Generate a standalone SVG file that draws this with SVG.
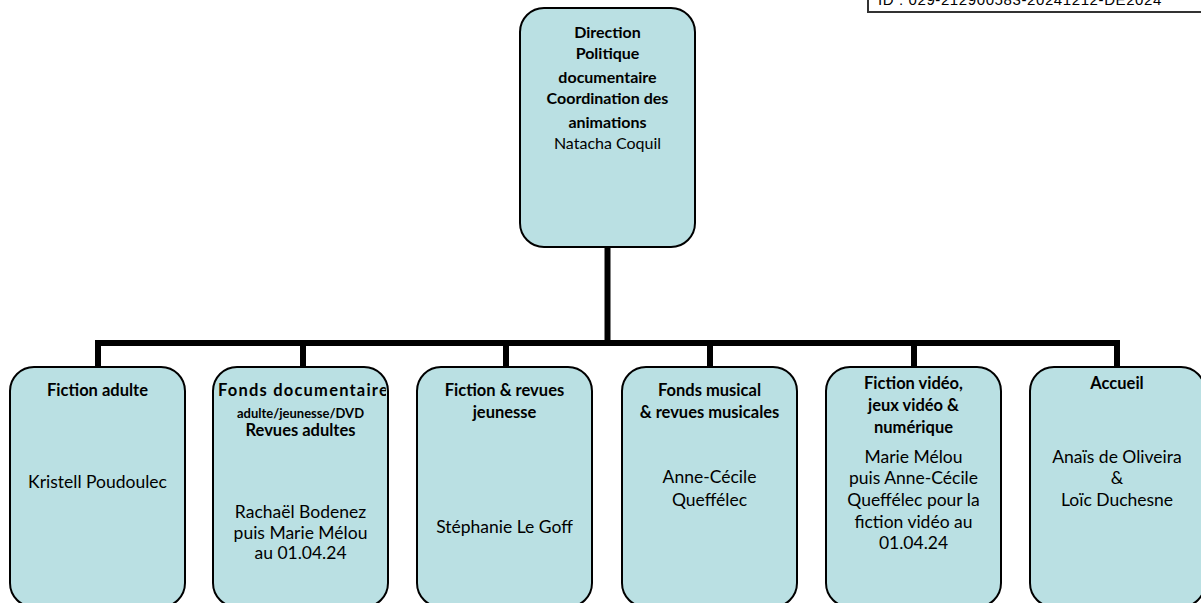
<svg xmlns="http://www.w3.org/2000/svg" width="1201" height="603" viewBox="0 0 1201 603">
<style>
.box{fill:#bae0e3;stroke:#000;stroke-width:2}
.t{font-family:Lato,"Noto Sans",sans-serif;font-size:16px;text-anchor:middle;fill:#000}
.r{font-size:17.5px}
.b{font-weight:bold}
.bb{font-weight:bold;font-size:16.5px}
.s{font-size:13px;font-weight:bold}
.c{stroke:#000;stroke-width:6;fill:none}
</style>
<defs>
<clipPath id="clip2"><rect x="214" y="368" width="172" height="240" rx="23"/></clipPath>
</defs>
<rect width="1201" height="603" fill="#fff"/>
<g id="stamp">
<rect x="868" y="-12" width="340" height="24" fill="#fff" stroke="#333" stroke-width="2"/>
<text x="878" y="5" style="font-family:'Liberation Sans',sans-serif;font-size:15px;letter-spacing:0.6px;fill:#000">ID : 029-212900583-20241212-DE2024</text>
</g>
<g id="connectors">
<line class="c" x1="607.5" y1="247" x2="607.5" y2="343"/>
<line class="c" x1="95" y1="343" x2="1120" y2="343"/>
<line class="c" x1="98" y1="340" x2="98" y2="367"/>
<line class="c" x1="303" y1="340" x2="303" y2="367"/>
<line class="c" x1="506" y1="340" x2="506" y2="367"/>
<line class="c" x1="710" y1="340" x2="710" y2="367"/>
<line class="c" x1="914" y1="340" x2="914" y2="367"/>
<line class="c" x1="1117" y1="340" x2="1117" y2="367"/>
</g>
<g id="direction">
<rect class="box" x="520" y="8" width="175" height="239" rx="24"/>
<text class="t b" x="607.5" y="38">Direction</text>
<text class="t b" x="607.5" y="59">Politique</text>
<text class="t b" x="607.5" y="83">documentaire</text>
<text class="t b" x="607.5" y="104">Coordination des</text>
<text class="t b" x="607.5" y="128">animations</text>
<text class="t" x="607.5" y="149">Natacha Coquil</text>
</g>
<g id="fiction-adulte">
<rect class="box" x="10" y="367" width="175" height="240" rx="24"/>
<text class="t bb" x="97.5" y="396">Fiction adulte</text>
<text class="t r" x="97.5" y="488">Kristell Poudoulec</text>
</g>
<g id="fonds-doc">
<rect class="box" x="213" y="367" width="175" height="240" rx="24"/>
<g clip-path="url(#clip2)">
<text class="t bb" x="218" y="396" style="text-anchor:start;letter-spacing:1.2px">Fonds documentaire</text>
</g>
<text class="t s" x="300.5" y="418">adulte/jeunesse/DVD</text>
<text class="t bb" x="300.5" y="436">Revues adultes</text>
<text class="t r" x="300.5" y="518">Rachaël Bodenez</text>
<text class="t r" x="300.5" y="539">puis Marie Mélou</text>
<text class="t r" x="300.5" y="559">au 01.04.24</text>
</g>
<g id="fiction-jeunesse">
<rect class="box" x="417" y="367" width="175" height="240" rx="24"/>
<text class="t bb" x="504.5" y="396">Fiction &amp; revues</text>
<text class="t bb" x="504.5" y="418">jeunesse</text>
<text class="t r" x="504.5" y="533">Stéphanie Le Goff</text>
</g>
<g id="fonds-musical">
<rect class="box" x="622" y="367" width="175" height="240" rx="24"/>
<text class="t bb" x="709.5" y="396">Fonds musical</text>
<text class="t bb" x="709.5" y="418">&amp; revues musicales</text>
<text class="t r" x="709.5" y="483">Anne-Cécile</text>
<text class="t r" x="709.5" y="506">Queffélec</text>
</g>
<g id="fiction-video">
<rect class="box" x="826" y="367" width="175" height="240" rx="24"/>
<text class="t bb" x="913.5" y="389">Fiction vidéo,</text>
<text class="t bb" x="913.5" y="411">jeux vidéo &amp;</text>
<text class="t bb" x="913.5" y="433">numérique</text>
<text class="t r" x="913.5" y="463">Marie Mélou</text>
<text class="t r" x="913.5" y="484">puis Anne-Cécile</text>
<text class="t r" x="913.5" y="506">Queffélec pour la</text>
<text class="t r" x="913.5" y="528">fiction vidéo au</text>
<text class="t r" x="913.5" y="549">01.04.24</text>
</g>
<g id="accueil">
<rect class="box" x="1030" y="367" width="175" height="240" rx="24"/>
<text class="t bb" x="1117" y="389">Accueil</text>
<text class="t r" x="1117" y="463">Anaïs de Oliveira</text>
<text class="t r" x="1117" y="484">&amp;</text>
<text class="t r" x="1117" y="506">Loïc Duchesne</text>
</g>
</svg>
